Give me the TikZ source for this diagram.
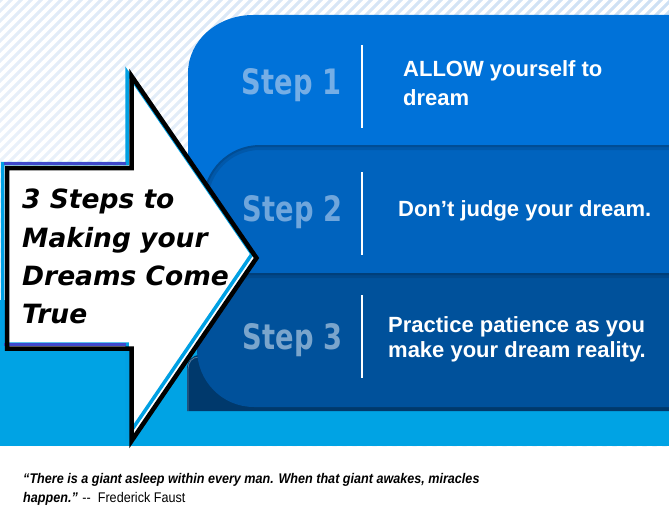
\documentclass[tikz,border=0pt]{standalone}
\usepackage{fontspec}
\usepackage{graphicx}
\usetikzlibrary{shadings}
\setmainfont{Liberation Sans}
\newfontfamily\djv[BoldFont={DejaVu Sans Bold},BoldItalicFont={DejaVu Sans Bold Oblique}]{DejaVu Sans}
\definecolor{sone}{HTML}{0072D9}
\definecolor{stwo}{HTML}{0063BE}
\definecolor{sthree}{HTML}{00519B}
\definecolor{tabdark}{HTML}{00396C}
\definecolor{cyanband}{HTML}{00A3E4}
\definecolor{arrcyan}{HTML}{00A0E3}
\definecolor{arrpurple}{HTML}{3F48CC}
\definecolor{lone}{HTML}{75AEE6}
\definecolor{ltwo}{HTML}{6FA6DC}
\definecolor{lthree}{HTML}{7AA5CC}
\definecolor{bgA}{HTML}{CDE0F4}
\definecolor{bgB}{HTML}{E2ECF8}
\definecolor{bgC}{HTML}{FBFCFE}
\definecolor{bgD}{HTML}{EDF3FA}
\tikzset{
  steplbl/.style={font=\djv\bfseries\fontsize{35}{35}\selectfont, anchor=base, inner sep=0pt},
  desc/.style={font=\bfseries\fontsize{22}{22}\selectfont, text=white, anchor=base west, inner sep=0pt},
  title/.style={font=\djv\bfseries\itshape\fontsize{26.5}{26.5}\selectfont, text=black, anchor=base west, inner sep=0pt},
  quote/.style={font=\fontsize{14}{14}\selectfont, text=black, anchor=base west, inner sep=0pt},
  sepline/.style={white, line width=1.2pt},
}
\begin{document}
\begin{tikzpicture}[x=1pt,y=-1pt]
\useasboundingbox (0,0) rectangle (669,519);
\fill[white] (0,0) rectangle (669,519);
% striped background
\begin{scope}
  \clip (0,0) rectangle (669,446);
  \shade[upper right=bgA, upper left=bgB, lower left=bgC, lower right=bgD] (0,0) rectangle (669,446);
  \foreach \i in {-470,-460,...,680} \draw[white, line width=3.6pt] (\i,456) -- ++(470,-470);
\end{scope}
% cyan band
\fill[cyanband] (0,300) rectangle (669,446);
% step 1 box
\fill[sone] (188,330) -- (188,73) .. controls (188,41) and (217,15) .. (253,15) -- (669,15) -- (669,330) -- cycle;
% step 2 box
\begin{scope}
  \path[clip] (203,330) -- (203,202) .. controls (203,170.5) and (228.5,145) .. (260,145) -- (669,145) -- (669,330) -- cycle;
  \fill[stwo] (180,130) rectangle (669,330);
  \draw[black, opacity=0.10, line width=10pt] (203,202) .. controls (203,170.5) and (228.5,145) .. (260,145) -- (669,145);
  \draw[black, opacity=0.12, line width=4pt] (203,202) .. controls (203,170.5) and (228.5,145) .. (260,145) -- (669,145);
\end{scope}
% dark tab under step 3
\fill[tabdark] (187,411) -- (187,369) .. controls (187,361) and (192,355) .. (200,355) -- (669,355) -- (669,411) -- cycle;
\draw[white, opacity=0.35, line width=0.8pt] (188,411) -- (188,369) .. controls (188,362) and (192,357) .. (199,357);
% step 3 box
\begin{scope}
  \path[clip] (669,273) -- (254,273) .. controls (222.5,273) and (197,298.5) .. (197,330) -- (197,349) .. controls (197,381) and (222,407) .. (254,407) -- (669,407) -- cycle;
  \fill[sthree] (180,260) rectangle (669,410);
  \draw[black, opacity=0.10, line width=10pt] (197,330) .. controls (197,298.5) and (222.5,273) .. (254,273) -- (669,273);
  \draw[black, opacity=0.12, line width=4pt] (197,330) .. controls (197,298.5) and (222.5,273) .. (254,273) -- (669,273);
\end{scope}
% separators
\draw[sepline] (362,45) -- (362,128);
\draw[sepline] (362,172) -- (362,255);
\draw[sepline] (362,295) -- (362,378);
% step labels
\node[steplbl, text=lone] (s1) at (291.5,94) {\scalebox{0.78}[1]{Step 1}};
\node[steplbl, text=ltwo] (s2) at (292.5,221) {\scalebox{0.78}[1]{Step 2}};
\node[steplbl, text=lthree] (s3) at (292.5,349) {\scalebox{0.78}[1]{Step 3}};
% descriptions
\node[desc] (d1a) at (403,76) {ALLOW yourself to};
\node[desc] (d1b) at (403,105) {dream};
\node[desc] (d2) at (398,216) {Don’t judge your dream.};
\node[desc] (d3a) at (388,332) {Practice patience as you};
\node[desc] (d3b) at (388,357) {make your dream reality.};
% arrow
\fill[white] (7,168) -- (131.5,168) -- (131.5,76) -- (256.5,258) -- (131.5,441) -- (131.5,348.5) -- (7,348.5) -- cycle;
\draw[arrcyan, line width=3.5pt] (2.5,163.5) -- (127,163.5) -- (127,72) -- (252,254) -- (127,437) -- (127,344) -- (2.5,344) -- cycle;
\draw[arrpurple, line width=3pt] (4,163.5) -- (126,163.5);
\draw[arrpurple, line width=3pt] (4,344) -- (126,344);
\draw[black, line width=4.5pt] (7,168) -- (131.5,168) -- (131.5,76) -- (256.5,258) -- (131.5,441) -- (131.5,348.5) -- (7,348.5) -- cycle;
% title
\node[title] (t1) at (22,208) {3 Steps to};
\node[title] (t2) at (22,247) {Making your};
\node[title] (t3) at (22,285) {Dreams Come};
\node[title] (t4) at (22,323) {True};
% quote
\node[quote] (q1) at (23,483) {\scalebox{0.9}[1]{\bfseries\itshape “There is a giant asleep within every man. When that giant awakes, miracles}};
\node[quote] (q2) at (23,502) {\scalebox{0.9}[1]{{\bfseries\itshape happen.”} {-}{-}\ \ Frederick Faust}};
\end{tikzpicture}
\end{document}
